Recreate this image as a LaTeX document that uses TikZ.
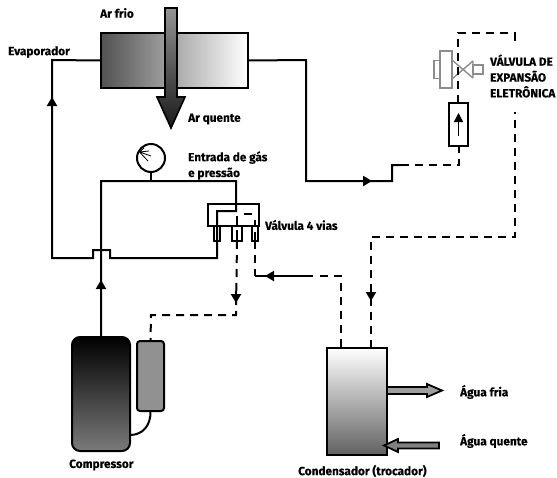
\documentclass[tikz,border=0pt]{standalone}
\usepackage{fontspec}
\setmainfont{Fira Sans}[BoldFeatures={FakeBold=0.25}]
\usetikzlibrary{arrows.meta}
\tikzset{
  pipe/.style={line width=2pt,line join=miter},
  dash line/.style={pipe,dash pattern=on 8pt off 6pt},
  tip/.style={pipe,-{Triangle[length=9pt,width=10pt]}},
  box/.style={draw=black,line width=2pt,inner sep=0pt,outer sep=0pt,anchor=center},
  lbl/.style={font=\fontsize{11.8}{15.8}\selectfont\bfseries,inner sep=0pt,anchor=west,align=left},
  icon/.style={draw=black!45,line width=1.4pt}
}
\begin{document}
\begin{tikzpicture}[x=1pt,y=-1pt]
\useasboundingbox (0,0) rectangle (557,477);
% components
\node[box,minimum width=147pt,minimum height=55pt,left color=black!68,right color=white] (evap) at (174.5,60.5) {};
\shade[top color=black!42,bottom color=black!90,draw=black,line width=1.6pt,line join=miter]
  (165,8) -- (177,8) -- (177,97) -- (185,97) -- (171,128) -- (157,97) -- (165,97) -- cycle;
\node[box,minimum width=58pt,minimum height=114pt,rounded corners=8pt,top color=black,bottom color=black!52] (comp) at (101,394) {};
\node[box,minimum width=27pt,minimum height=70pt,rounded corners=3pt,fill=black!43] (motor) at (150.5,376) {};
\node[box,minimum width=60pt,minimum height=107pt,top color=white,bottom color=black!62] (cond) at (357,401.5) {};
\node[box,minimum width=28pt,minimum height=28pt,circle,fill=white] (gauge) at (151,158) {};
\node[box,minimum width=51pt,minimum height=22pt,fill=white] (valve) at (233.5,215) {};
\node[box,minimum width=6pt,minimum height=15pt] (pa) at (217,233.5) {};
\node[box,minimum width=10pt,minimum height=15pt] (pb) at (237,233.5) {};
\node[box,minimum width=6pt,minimum height=15pt] (pc) at (255,233.5) {};
\node[box,minimum width=19pt,minimum height=43pt,fill=white] (exp) at (458.5,124.5) {};
% expansion valve icon
\node[icon,minimum width=12pt,minimum height=37pt,inner sep=0pt,outer sep=0pt,fill=white] (v1) at (446,69.5) {};
\node[icon,minimum width=6pt,minimum height=18pt,inner sep=0pt,outer sep=0pt,anchor=east] (v2) at (v1.west) {};
\node[icon,minimum width=10pt,minimum height=9pt,inner sep=0pt,outer sep=0pt] (v3) at (478,69.5) {};
\draw[icon] (452,60) -- (473,78) (452,79) -- (473,61) (452,60) -- (452,79) (473,61) -- (473,78);
% gauge needles
\coordinate (g0) at (139.5,152);
\draw[line width=.8pt] (g0) -- (149,151) (g0) -- (151,156) (g0) -- (148,161) (g0) -- (144,148);
% coordinates
\coordinate (e1) at (52,60);
\coordinate (e2) at (52,258);
\coordinate (earr) at (52,97);
\coordinate (b1) at (93,258);
\coordinate (b2) at (93,250);
\coordinate (b3) at (110,250);
\coordinate (b4) at (110,258);
\coordinate (b5) at (217,258);
\coordinate (i1) at (217,211);
\coordinate (i2) at (236,211);
\coordinate (top2) at (236,181);
\coordinate (top1) at (101,181);
\coordinate (carr) at (101,280);
% suction / discharge lines
\draw[pipe] (evap.west) -- (e1) -- (e2) -- (b1) -- (b2) -- (b3) -- (b4) -- (b5) -- (i1) -- (i2) -- (top2) -- (top1) -- (comp.north -| top1);
\draw[tip] (52,110) -- (earr);
\draw[tip] (comp.north) -- (carr);
\draw[pipe] (gauge.south) -- (gauge.south |- top1);
% valve interior
\draw[pipe] (237,216) -- (pb.north);
\draw[pipe] (244,214) -- (252,214);
\draw[pipe] (255,220) -- (pc.north);
\draw[pipe] (237,230) -- (pb.south);
\draw[pipe] (255,232) -- (pc.south);
% compressor link
\coordinate (d1) at (236,315);
\coordinate (d2) at (151,315);
\coordinate (darr) at (236,303);
\draw[dash line] (pb.south) -- (d1) -- (d2) -- (motor.north);
\draw[tip] (236,291) -- (darr);
\draw[pipe] (motor.south) .. controls (151,425) and (143,435) .. (comp.east |- 0,435);
% condenser inlet
\coordinate (c1) at (255,276);
\coordinate (c2) at (341,276);
\coordinate (carr2) at (265,276);
\draw[dash line] (pc.south) -- (c1);
\draw[pipe] (c1) -- (313,276);
\draw[tip] (313,276) -- (carr2);
\draw[dash line] (320,276) -- (c2) -- (c2 |- cond.north);
% condenser outlet to expansion side
\coordinate (o1) at (371,237);
\coordinate (o2) at (514.5,237);
\coordinate (o3) at (514.5,112);
\coordinate (oarr) at (371,301);
\draw[dash line] (cond.north -| o1) -- (o1) -- (o2) -- (o3);
\draw[tip] (371,285) -- (oarr);
% top of expansion valve
\coordinate (t1) at (458,33);
\coordinate (t2) at (514.5,33);
\coordinate (t3) at (514.5,41);
\draw[dash line] (exp.north -| t1) -- (t1) -- (t2) -- (t3);
% arrow in box
\coordinate (x1) at (458.5,136);
\coordinate (x2) at (458.5,113);
\draw[line width=1.4pt,-{Triangle[length=9pt,width=9pt]}] (x1) -- (x2);
% evaporator outlet
\coordinate (r1) at (306,60);
\coordinate (r2) at (306,181);
\coordinate (r3) at (392,181);
\coordinate (r4) at (392,165);
\coordinate (r5) at (459,165);
\coordinate (rarr) at (372,181);
\draw[pipe] (evap.east) -- (r1) -- (r2) -- (r3) -- (r4) -- (401,165);
\draw[tip] (360,181) -- (rarr);
\draw[dash line] (401,165) -- (r5) -- (exp.south -| r5);
% water arrows
\draw[line width=1.8pt,fill=black!38,line join=miter] (cond.east |- 0,387) -- (427,387) -- (427,384) -- (442,390.5) -- (427,397) -- (427,394) -- (cond.east |- 0,394) -- cycle;
\draw[line width=1.8pt,fill=black!50,line join=miter] (439,442.5) -- (398,442.5) -- (398,439) -- (384,445.5) -- (398,452) -- (398,448.5) -- (439,448.5) -- cycle;
% labels
\node[lbl] (l1) at (100,13) {Ar frio};
\node[lbl] (l2) at (8,52) {Evaporador};
\node[lbl] (l3) at (188,119) {Ar quente};
\node[lbl] (l4) at (188,165.5) {Entrada de gás\\e pressão};
\node[lbl] (l5) at (265,225) {Válvula 4 vias};
\node[lbl] (l6) at (490,76) {VÁLVULA DE\\EXPANSÃO\\ELETRÔNICA};
\node[lbl] (l7) at (69,465) {Compressor};
\node[lbl] (l8) at (298,471) {Condensador (trocador)};
\node[lbl] (l9) at (460,392) {Água fria};
\node[lbl] (l10) at (460,441) {Água quente};
\end{tikzpicture}
\end{document}
